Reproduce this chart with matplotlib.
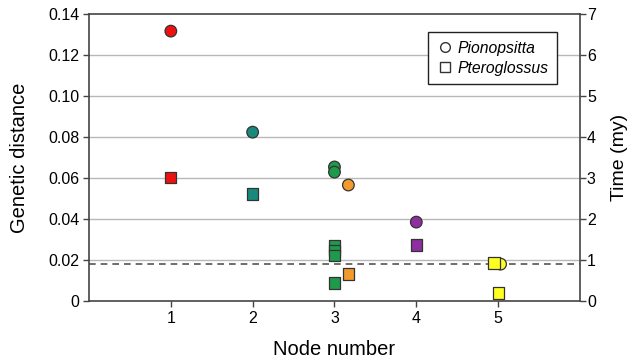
import matplotlib
matplotlib.use("Agg")
import matplotlib.pyplot as plt
from matplotlib.lines import Line2D

plt.rcParams['font.family'] = ['Liberation Sans', 'DejaVu Sans']

# Pionopsitta (circles)
circ_x = [1, 2, 3, 3, 3.17, 4, 5.03]
circ_y = [0.1317, 0.0824, 0.0654, 0.0629, 0.0566, 0.0385, 0.0180]
circ_c = ["#ee1111", "#178a7c", "#1f9a4c", "#1f9a4c", "#f29a2e", "#8e2ea0", "#ffff22"]

# Pteroglossus (squares)
sq_x = [1, 2, 3, 3, 3, 3, 3.17, 4, 4.95, 5]
sq_y = [0.0603, 0.0522, 0.0268, 0.0246, 0.0224, 0.0088, 0.0132, 0.0273, 0.0185, 0.0039]
sq_c = ["#ee1111", "#178a7c", "#1f9a4c", "#1f9a4c", "#1f9a4c", "#1f9a4c", "#f29a2e",
        "#8e2ea0", "#ffff22", "#ffff22"]

threshold = 0.018
yticks = [0, 0.02, 0.04, 0.06, 0.08, 0.10, 0.12, 0.14]
ylabels = ["0", "0.02", "0.04", "0.06", "0.08", "0.10", "0.12", "0.14"]
time_ticks = [0, 1, 2, 3, 4, 5, 6, 7]

fig = plt.figure(figsize=(6.29, 3.62), dpi=100)
ax = fig.add_axes([0.1415, 0.1685, 0.7805, 0.7925])

for y in yticks[1:-1]:
    ax.axhline(y, color="#b8b8b8", lw=1.0, zorder=0)
ax.axhline(threshold, color="#555555", lw=1.2, ls=(0, (4, 3)), zorder=1)

ax.scatter(circ_x, circ_y, s=70, c=circ_c, marker="o", edgecolors="#333333", linewidths=0.9, zorder=3)
ax.scatter(sq_x, sq_y, s=65, c=sq_c, marker="s", edgecolors="#333333", linewidths=0.9, zorder=4)

ax.set_xlim(0, 6)
ax.set_ylim(0, 0.14)
ax.set_xticks([1, 2, 3, 4, 5])
ax.set_yticks(yticks)
ax.set_yticklabels(ylabels)
ax.tick_params(axis="both", labelsize=11.5, color="#444444", length=4, width=1.0, pad=3)
ax.set_xlabel("Node number", fontsize=14.5, labelpad=10)
ax.set_ylabel("Genetic distance", fontsize=14.5, labelpad=14)
for sp in ax.spines.values():
    sp.set_color("#444444")
    sp.set_linewidth(1.2)

ax2 = ax.twinx()
ax2.set_ylim(0, 7)
ax2.set_yticks(time_ticks)
ax2.tick_params(axis="y", labelsize=11.5, color="#444444", length=4, width=1.0, pad=1)
ax2.set_ylabel("Time (my)", fontsize=14, labelpad=11)
for sp in ax2.spines.values():
    sp.set_visible(False)

handles = [
    Line2D([], [], marker="o", ls="none", mfc="white", mec="#333333", ms=7, label="Pionopsitta"),
    Line2D([], [], marker="s", ls="none", mfc="white", mec="#333333", ms=7, label="Pteroglossus"),
]
leg = ax.legend(handles=handles, loc="upper right", bbox_to_anchor=(0.953, 0.937),
                borderaxespad=0,
                prop={"style": "italic", "size": 11.3}, fancybox=False, framealpha=1,
                edgecolor="#222222", handletextpad=0.3, borderpad=0.55, labelspacing=0.3,
                handlelength=1.0)
leg.get_frame().set_linewidth(1.0)

fig.savefig("out.png", dpi=100)
